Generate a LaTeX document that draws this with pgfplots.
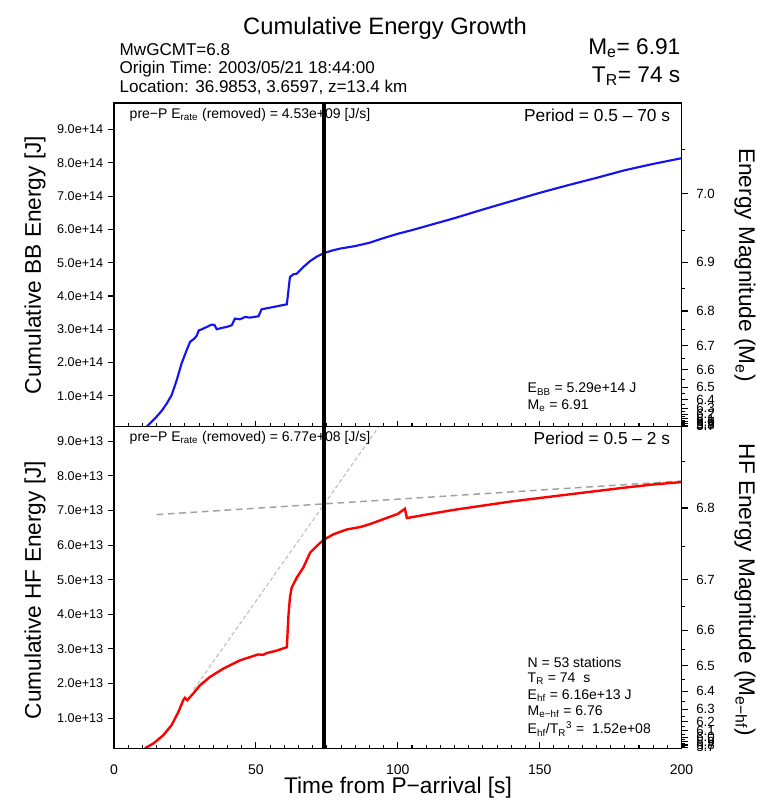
\documentclass[border=0pt]{standalone}
\usepackage{fontspec}
\setmainfont{Liberation Sans}
\usepackage{pgfplots}
\pgfplotsset{compat=1.18}
\definecolor{dashgray}{RGB}{160,160,160}
\definecolor{dashpink}{RGB}{200,185,185}
\definecolor{myblue}{RGB}{20,20,240}
\pgfplotsset{
  panel/.style={scale only axis, width=425.7pt, xmin=0, xmax=200,
    axis line style={line width=1.1pt},
    tick style={black, line width=0.8pt},
    major tick length=4.5pt, minor tick length=2.5pt},
  toppanel/.style={panel, at={(85.5pt,-77.25pt)}, anchor=north west, height=242.8pt, ymin=0.07, ymax=9.8},
  botpanel/.style={panel, at={(85.5pt,-320pt)}, anchor=north west, height=241.2pt, ymin=0.13, ymax=9.42},
  lefty/.style={xtick=\empty, ytick={1,2,...,9}, ytick pos=left, tick align=outside,
    yticklabel style={font=\fontsize{9.5}{11}\selectfont}},
  xticks/.style={ytick=\empty, xtick={0,50,100,150,200}, minor x tick num=9, xtick pos=bottom, tick align=inside},
  righty/.style={xtick=\empty, ytick pos=right, yticklabel pos=right, tick align=outside,
    yticklabel style={font=\fontsize{10}{12}\selectfont, xshift=3pt}},
}
\begin{document}
\begin{tikzpicture}
\path[use as bounding box] (0,0) rectangle (567.75pt,-600.75pt);
% ---------------- top panel ----------------
\begin{axis}[toppanel, lefty,
  yticklabels={1.0e+14,2.0e+14,3.0e+14,4.0e+14,5.0e+14,6.0e+14,7.0e+14,8.0e+14,9.0e+14}]
\addplot[myblue, line width=1.6pt] coordinates {
(11.5,0.07) (13,0.2) (15,0.37) (17,0.57) (18.6,0.77) (20.3,1.02) (22.1,1.47) (23.8,1.97)
(25.6,2.37) (26.8,2.62) (28.3,2.72) (29.1,2.8) (29.9,2.97) (31,3.0) (32.7,3.07) (34.4,3.14)
(35.4,3.13) (36.2,3.0) (38,3.04) (39.7,3.07) (41.5,3.12) (42.6,3.32) (44.4,3.30) (46.2,3.37)
(47.9,3.35) (50.9,3.39) (52.0,3.6) (55.0,3.65) (58,3.7) (60.9,3.75) (62.0,4.57) (63.2,4.65)
(64.4,4.67) (66.7,4.87) (69.1,5.05) (71.4,5.18) (74,5.29) (77,5.37) (80,5.43) (85,5.50)
(90,5.6) (95,5.74) (100,5.87) (105,5.98) (110,6.1) (120,6.34) (130,6.6) (140,6.85)
(150,7.1) (160,7.33) (170,7.55) (180,7.78) (190,7.97) (200,8.14)};
\node[anchor=west, font=\fontsize{10.5}{12}\selectfont] at (rel axis cs:0.0194,0.963)
  {pre−P E\textsubscript{rate} (removed) = 4.53e+09 [J/s]};
\node[anchor=east, font=\fontsize{13}{15}\selectfont] at (rel axis cs:0.988,0.963)
  {Period = 0.5 – 70 s};
\node[anchor=west, font=\fontsize{10.5}{12}\selectfont] at (rel axis cs:0.7206,0.1165)
  {E\textsubscript{BB} = 5.29e+14 J};
\node[anchor=west, font=\fontsize{10.5}{12}\selectfont] at (rel axis cs:0.7206,0.064)
  {M\textsubscript{e} = 6.91};
\end{axis}
\begin{axis}[toppanel, xticks, xticklabels={}]
\end{axis}
\begin{axis}[toppanel, righty,
  ytick={0.0794,0.1122,0.1585,0.2239,0.3162,0.4467,0.6310,0.8913,1.259,1.778,2.512,3.548,5.012,7.079},
  yticklabels={5.7,5.8,5.9,6.0,6.1,6.2,6.3,6.4,6.5,6.6,6.7,6.8,6.9,7.0},
  minor ytick={0.0944,0.1334,0.1884,0.2661,0.3758,0.5309,0.7499,1.059,1.496,2.113,2.985,4.217,5.957,8.414}]
\addplot[black, line width=2.3pt] coordinates {(74,0.07) (74,9.8)};
\end{axis}
% ---------------- bottom panel ----------------
\begin{axis}[botpanel, lefty,
  yticklabels={1.0e+13,2.0e+13,3.0e+13,4.0e+13,5.0e+13,6.0e+13,7.0e+13,8.0e+13,9.0e+13}]
\addplot[dashgray, line width=1.1pt, dash pattern=on 5pt off 3.5pt] coordinates {(15,6.88) (200,7.85)};
\addplot[dashpink, line width=0.8pt, dash pattern=on 3pt off 2pt] coordinates {(28,1.82) (93.3,9.42)};
\addplot[red, line width=1.8pt] coordinates {
(10.9,0.13) (13.9,0.27) (17.4,0.51) (20.3,0.80) (22.7,1.18) (24.4,1.52) (25.0,1.59) (25.8,1.52)
(27.9,1.71) (30.3,1.95) (33.8,2.19) (38.5,2.43) (44.4,2.67) (50.8,2.84) (52.6,2.83) (53.8,2.88)
(57.3,2.95) (60.9,3.05) (61.5,4.0) (62.0,4.49) (62.6,4.77) (64.4,5.06) (66.7,5.35) (69.1,5.78)
(71.4,5.97) (74,6.16) (77.3,6.31) (82.0,6.45) (86.7,6.52) (90,6.6) (95,6.75) (100,6.9)
(102.5,7.05) (103.2,6.78) (110,6.88) (120,7.02) (130,7.14) (140,7.26) (150,7.36) (160,7.46)
(170,7.56) (180,7.66) (190,7.75) (200,7.82)};
\node[anchor=west, font=\fontsize{10.5}{12}\selectfont] at (rel axis cs:0.0194,0.965)
  {pre−P E\textsubscript{rate} (removed) = 6.77e+08 [J/s]};
\node[anchor=east, font=\fontsize{13}{15}\selectfont] at (rel axis cs:0.988,0.965)
  {Period = 0.5 – 2 s};
\node[anchor=west, font=\fontsize{10.5}{12}\selectfont] at (rel axis cs:0.7206,0.2652) {N = 53 stations};
\node[anchor=west, font=\fontsize{10.5}{12}\selectfont] at (rel axis cs:0.7206,0.2155) {T\textsubscript{R} = 74~~s};
\node[anchor=west, font=\fontsize{10.5}{12}\selectfont] at (rel axis cs:0.7206,0.1626) {E\textsubscript{hf} = 6.16e+13 J};
\node[anchor=west, font=\fontsize{10.5}{12}\selectfont] at (rel axis cs:0.7206,0.1129) {M\textsubscript{e−hf} = 6.76};
\node[anchor=west, font=\fontsize{10.5}{12}\selectfont] at (rel axis cs:0.7206,0.060) {E\textsubscript{hf}/T\textsubscript{R}\textsuperscript{3} =~~1.52e+08};
\end{axis}
\begin{axis}[botpanel, xticks, xticklabels={0,50,100,150,200},
  xticklabel style={font=\fontsize{10.5}{12}\selectfont, yshift=-9pt}]
\end{axis}
\begin{axis}[botpanel, righty,
  ytick={0.1583,0.2236,0.3158,0.4461,0.6301,0.8902,1.2575,1.7763,2.5091,3.5441,5.0061,7.0715},
  yticklabels={5.7,5.8,5.9,6.0,6.1,6.2,6.3,6.4,6.5,6.6,6.7,6.8},
  minor ytick={0.1881,0.2657,0.3753,0.5302,0.7489,1.058,1.4945,2.1112,2.9822,4.2125,5.9502,8.4044}]
\addplot[black, line width=2.3pt] coordinates {(74,0.13) (74,9.42)};
\end{axis}
% ---------------- texts ----------------
\node[font=\fontsize{17.8}{20}\selectfont] at (288.75pt,-21pt) {Cumulative Energy Growth};
\node[anchor=west, font=\fontsize{12.8}{14}\selectfont] at (86.25pt,-37.5pt) {MwGCMT=6.8};
\node[anchor=west, font=\fontsize{12.8}{14}\selectfont] at (86.25pt,-51.75pt) {Origin Time: 2003/05/21 18:44:00};
\node[anchor=west, font=\fontsize{12.8}{14}\selectfont] at (86.25pt,-65.25pt) {Location: 36.9853, 3.6597, z=13.4 km};
\node[anchor=east, font=\fontsize{17}{19}\selectfont] at (513.75pt,-36pt) {M\textsubscript{e}= 6.91};
\node[anchor=east, font=\fontsize{17}{19}\selectfont] at (513.75pt,-57pt) {T\textsubscript{R}= 74 s};
\node[rotate=90, font=\fontsize{17}{19}\selectfont] at (26.25pt,-198.75pt) {Cumulative BB Energy [J]};
\node[rotate=90, font=\fontsize{17}{19}\selectfont] at (26.25pt,-442.5pt) {Cumulative HF Energy [J]};
\node[rotate=-90, font=\fontsize{17}{19}\selectfont] at (558.75pt,-198.75pt) {Energy Magnitude (M\textsubscript{e})};
\node[rotate=-90, font=\fontsize{17}{19}\selectfont] at (558.75pt,-442.5pt) {HF Energy Magnitude (M\textsubscript{e−hf})};
\node[font=\fontsize{17}{19}\selectfont] at (298.5pt,-591pt) {Time from P−arrival [s]};
\end{tikzpicture}
\end{document}
